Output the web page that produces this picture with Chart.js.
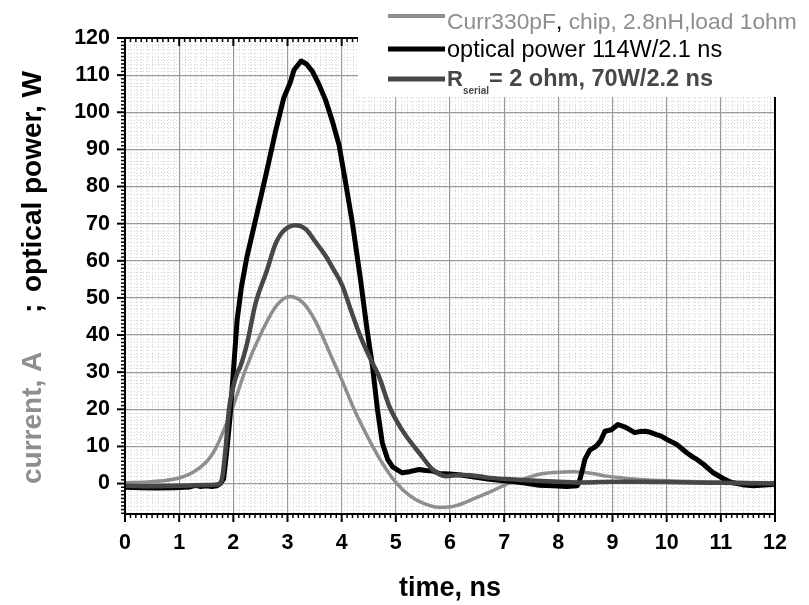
<!DOCTYPE html>
<html>
<head>
<meta charset="utf-8">
<script src="https://cdn.jsdelivr.net/npm/chart.js@4.4.1/dist/chart.umd.min.js"></script>
<style>
  html, body { margin: 0; padding: 0; background: #fff; }
</style>
</head>
<body>
<canvas id="myChart" width="809" height="605"></canvas>
<script>
// tick labels
var xTicks = [0, 1, 2, 3, 4, 5, 6, 7, 8, 9, 10, 11, 12];
var yTicks = [0, 10, 20, 30, 40, 50, 60, 70, 80, 90, 100, 110, 120];

// Curr330pF, chip, 2.8nH, load 1ohm (current, A)
var currTime = [0, 0.5, 1.0, 1.25, 1.5, 1.65, 1.8, 2.0, 2.22, 2.53, 2.8, 3.05, 3.3, 3.52, 3.8, 4.0, 4.23, 4.5, 4.75, 5.0, 5.25, 5.5, 5.8, 6.1, 6.42, 6.75, 7.04, 7.35, 7.65, 7.95, 8.27, 8.6, 8.89, 9.2, 9.5, 10.1, 10.6, 11.0, 11.5, 12];
var currValues = [0.2, 0.5, 1.5, 3, 5.8, 8.8, 13.5, 21, 30.5, 41, 48, 50.4, 48.5, 43.6, 34.5, 28, 20, 12, 5.5, 0.3, -3.2, -5.3, -6.4, -6, -4.2, -2.2, -0.2, 1.2, 2.5, 3.0, 3.2, 2.8, 2.0, 1.5, 1.1, 0.7, 0.5, 0.4, 0.3, 0.2];

// optical power 114W/2.1 ns
var powerTime = [0, 0.3, 0.6, 0.9, 1.2, 1.3, 1.4, 1.5, 1.6, 1.7, 1.76, 1.82, 1.88, 1.94, 2.0, 2.07, 2.15, 2.25, 2.41, 2.59, 2.78, 2.93, 3.05, 3.12, 3.25, 3.35, 3.46, 3.58, 3.70, 3.82, 3.95, 4.05, 4.20, 4.35, 4.47, 4.57, 4.66, 4.75, 4.85, 4.94, 5.05, 5.12, 5.25, 5.43, 5.55, 5.68, 5.8, 6.0, 6.2, 6.42, 6.7, 7.04, 7.35, 7.65, 7.9, 8.15, 8.35, 8.4, 8.45, 8.49, 8.58, 8.7, 8.78, 8.86, 8.98, 9.1, 9.18, 9.26, 9.41, 9.5, 9.6, 9.7, 9.81, 9.9, 10.0, 10.19, 10.37, 10.5, 10.56, 10.68, 10.86, 11.05, 11.2, 11.4, 11.6, 11.8, 12];
var powerValues = [-1, -1.1, -1.2, -1.1, -0.9, -0.5, -0.8, -0.6, -0.8, -0.6, 0, 1.2, 9, 18, 30, 44, 53, 61, 71, 82.4, 94.9, 103.8, 108, 111.4, 113.8, 113, 111, 107.5, 103.4, 98, 91.3, 83, 70, 54.7, 41.3, 31.5, 20, 11, 6.5, 4.5, 3.5, 2.9, 3.2, 3.8, 3.5, 3.4, 2.7, 2.6, 2.3, 1.8, 1.2, 0.7, 0.2, -0.45, -0.6, -0.8, -0.6, 1.2, 4, 6.5, 9, 10.1, 11.5, 14.1, 14.5, 15.9, 15.5, 15, 13.7, 14, 14.1, 13.8, 13.2, 12.8, 11.9, 10.5, 8.3, 7, 6.5, 5.2, 2.9, 1.3, 0.3, -0.3, -0.6, -0.4, -0.2];

// R serial = 2 ohm, 70W/2.2 ns
var serialTime = [0, 0.5, 1.0, 1.5, 1.75, 1.8, 1.86, 1.92, 1.98, 2.07, 2.13, 2.25, 2.41, 2.62, 2.78, 2.93, 3.15, 3.33, 3.52, 3.70, 3.86, 4.01, 4.17, 4.35, 4.54, 4.69, 4.88, 5.03, 5.19, 5.43, 5.68, 5.93, 6.2, 6.42, 6.7, 7.04, 7.5, 8.0, 8.5, 9.0, 9.5, 10.0, 10.5, 11.0, 11.5, 12];
var serialValues = [-0.6, -0.7, -0.6, -0.4, -0.2, 2, 10, 20, 25, 29.7, 31.5, 37.5, 48.5, 57.4, 64.6, 68.1, 69.6, 68.6, 65, 61.4, 57.4, 53.4, 46.7, 39.5, 33.3, 28.8, 20.8, 16.5, 12.8, 8.3, 3.8, 2.0, 2.3, 2.2, 1.6, 1.2, 0.8, 0.5, 0.3, 0.5, 0.5, 0.4, 0.3, 0.2, 0.1, 0];

var lightGray = '#8e8e8e';
var darkGray = '#474747';
var font = "'Liberation Sans', Arial, sans-serif";

function toPoints(xs, ys) {
    var pts = [];
    for (var i = 0; i < xs.length; i++) {
        pts.push({x: xs[i], y: ys[i]});
    }
    return pts;
}

function hLine(ctx, x1, x2, y) {
    ctx.beginPath(); ctx.moveTo(x1, y); ctx.lineTo(x2, y); ctx.stroke();
}
function vLine(ctx, x, y1, y2) {
    ctx.beginPath(); ctx.moveTo(x, y1); ctx.lineTo(x, y2); ctx.stroke();
}

// dotted minor grid, frame with ticks, legend box and axis titles
var decorPlugin = {
    id: 'decor',
    beforeDraw: function(chart) {
        var ctx = chart.ctx, a = chart.chartArea;
        var x = chart.scales.x, y = chart.scales.y;
        ctx.save();
        ctx.fillStyle = '#fff';
        ctx.fillRect(0, 0, chart.width, chart.height);
        ctx.strokeStyle = '#d6d6d6';
        ctx.lineWidth = 1;
        ctx.setLineDash([1, 2]);
        for (var i = 1; i < 120; i++) {
            if (i % 10 == 0) continue;
            var px = Math.round(x.getPixelForValue(i / 10)) + 0.5;
            vLine(ctx, px, a.top, a.bottom);
        }
        for (var v = -8; v < 120; v++) {
            if (v % 10 == 0) continue;
            var py = Math.round(y.getPixelForValue(v)) + 0.5;
            hLine(ctx, a.left, a.right, py);
        }
        ctx.restore();
    },
    afterDatasetsDraw: function(chart) {
        var ctx = chart.ctx, a = chart.chartArea;
        var x = chart.scales.x, y = chart.scales.y;
        ctx.save();
        ctx.strokeStyle = '#000';
        ctx.lineCap = 'butt';
        // ticks on bottom (outside) and top (inside)
        for (var i = 0; i <= 120; i++) {
            var major = i % 10 == 0;
            var px = x.getPixelForValue(i / 10);
            ctx.lineWidth = major ? 2 : 1.5;
            vLine(ctx, px, a.bottom, a.bottom + (major ? 8 : 4));
            vLine(ctx, px, a.top, a.top + (major ? 8 : 4));
        }
        // ticks on left (outside)
        for (var v = -8; v <= 120; v++) {
            var majorY = v % 10 == 0;
            var py = y.getPixelForValue(v);
            ctx.lineWidth = majorY ? 2 : 1.5;
            hLine(ctx, a.left - (majorY ? 8 : 4), a.left, py);
        }
        ctx.lineWidth = 2;
        ctx.strokeRect(a.left, a.top, a.right - a.left, a.bottom - a.top);
        ctx.restore();
    },
    afterDraw: function(chart) {
        var ctx = chart.ctx, a = chart.chartArea;
        ctx.save();
        // legend box
        ctx.fillStyle = '#fff';
        ctx.fillRect(358, 0, chart.width - 358, 97);
        ctx.lineCap = 'butt';
        ctx.strokeStyle = lightGray; ctx.lineWidth = 4;
        hLine(ctx, 388, 445, 16);
        ctx.strokeStyle = '#000'; ctx.lineWidth = 5;
        hLine(ctx, 388, 445, 49);
        ctx.strokeStyle = darkGray; ctx.lineWidth = 5;
        hLine(ctx, 388, 445, 79);

        ctx.textAlign = 'left';
        ctx.textBaseline = 'alphabetic';
        ctx.font = '22.8px ' + font;
        var tx = 447;
        ctx.fillStyle = lightGray;
        ctx.fillText('Curr330pF', tx, 29);
        tx += ctx.measureText('Curr330pF').width;
        ctx.fillStyle = '#000';
        ctx.fillText(',', tx, 29);
        tx += ctx.measureText(',').width;
        ctx.fillStyle = lightGray;
        ctx.fillText(' chip, 2.8nH,load 1ohm', tx, 29);

        ctx.font = '23.5px ' + font;
        ctx.fillStyle = '#000';
        ctx.fillText('optical power 114W/2.1 ns', 447, 57);

        ctx.fillStyle = darkGray;
        ctx.font = 'bold 22px ' + font;
        ctx.fillText('R', 447, 86);
        tx = 447 + ctx.measureText('R').width;
        ctx.font = 'bold 10px ' + font;
        ctx.fillText('serial', tx, 94);
        tx += ctx.measureText('serial').width;
        ctx.font = 'bold 23.5px ' + font;
        ctx.fillText('= 2 ohm, 70W/2.2 ns', tx, 86);

        // x title
        ctx.fillStyle = '#000';
        ctx.textAlign = 'center';
        ctx.font = 'bold 27px ' + font;
        ctx.fillText('time, ns', (a.left + a.right) / 2, 596);

        // y title (two colours)
        ctx.translate(41, 484);
        ctx.rotate(-Math.PI / 2);
        ctx.textAlign = 'left';
        ctx.font = 'bold 28px ' + font;
        ctx.fillStyle = lightGray;
        ctx.fillText('current, A', 0, 0);
        ctx.fillStyle = '#000';
        ctx.fillText(';', 171, 0);
        ctx.fillText('optical power, W', 192, 0);
        ctx.restore();
    }
};

var ctx = document.getElementById('myChart').getContext('2d');
var chart = new Chart(ctx, {
    type: 'scatter',
    data: {
        datasets: [{
            label: 'R serial = 2 ohm, 70W/2.2 ns',
            data: toPoints(serialTime, serialValues),
            showLine: true,
            borderColor: darkGray,
            borderWidth: 4.5,
            pointRadius: 0,
            cubicInterpolationMode: 'monotone',
            borderJoinStyle: 'round'
        }, {
            label: 'optical power 114W/2.1 ns',
            data: toPoints(powerTime, powerValues),
            showLine: true,
            borderColor: '#000',
            borderWidth: 5,
            pointRadius: 0,
            borderJoinStyle: 'round'
        }, {
            label: 'Curr330pF, chip, 2.8nH,load 1ohm',
            data: toPoints(currTime, currValues),
            showLine: true,
            borderColor: lightGray,
            borderWidth: 3.5,
            pointRadius: 0,
            cubicInterpolationMode: 'monotone',
            borderJoinStyle: 'round'
        }]
    },
    options: {
        responsive: false,
        animation: false,
        layout: { padding: { left: 0, right: 34, top: 38, bottom: 0 } },
        plugins: {
            legend: { display: false },
            tooltip: { enabled: false }
        },
        scales: {
            x: {
                type: 'linear',
                min: 0,
                max: 12,
                afterBuildTicks: function(scale) {
                    scale.ticks = xTicks.map(function(v) { return {value: v}; });
                },
                afterFit: function(scale) { scale.height = 91; },
                ticks: {
                    color: '#000',
                    font: { family: font, size: 21.5, weight: 'bold' },
                    padding: 16,
                    maxRotation: 0
                },
                grid: { color: '#9a9a9a', lineWidth: 1.2, drawTicks: false },
                border: { display: false }
            },
            y: {
                type: 'linear',
                min: -8.2,
                max: 120,
                afterBuildTicks: function(scale) {
                    scale.ticks = yTicks.map(function(v) { return {value: v}; });
                },
                afterFit: function(scale) { scale.width = 125; },
                ticks: {
                    color: '#000',
                    font: { family: font, size: 21.5, weight: 'bold' },
                    padding: 15
                },
                grid: { color: '#9a9a9a', lineWidth: 1.2, drawTicks: false },
                border: { display: false }
            }
        }
    },
    plugins: [decorPlugin]
});
</script>
</body>
</html>
